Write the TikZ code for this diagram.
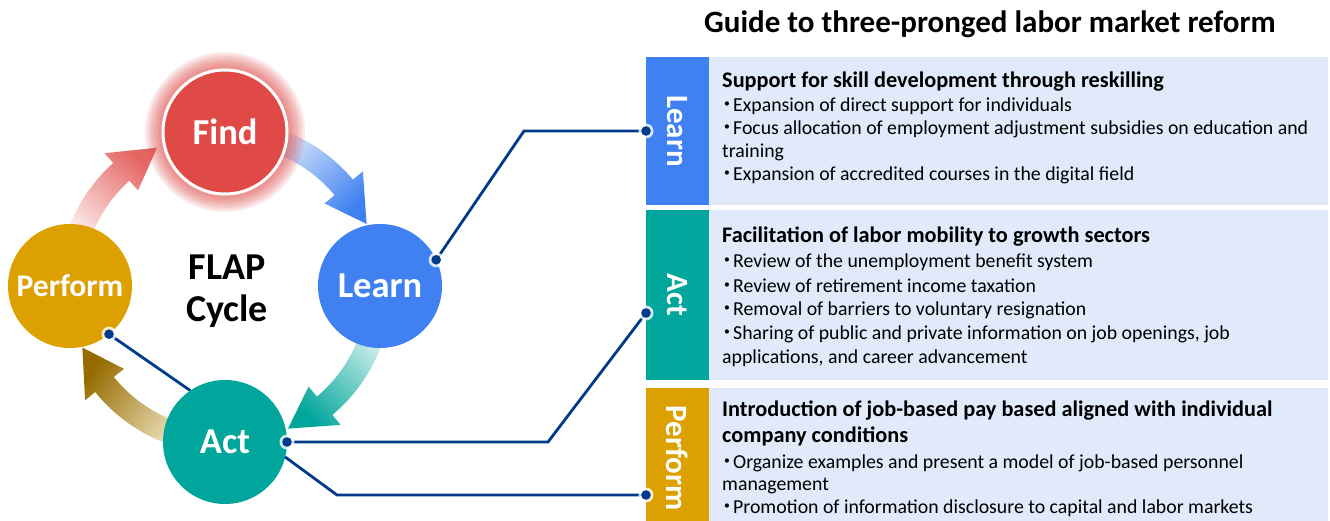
\documentclass[tikz,border=0pt]{standalone}
\usepackage{fontspec}
\setmainfont{Carlito}
\newfontfamily\cjk{Noto Sans CJK JP}
\usetikzlibrary{calc}
\definecolor{navy}{RGB}{0,58,138}
\definecolor{findc}{RGB}{224,74,70}
\definecolor{learnc}{RGB}{63,129,240}
\definecolor{actc}{RGB}{0,165,155}
\definecolor{perfc}{RGB}{220,160,0}
\definecolor{boxc}{RGB}{224,234,250}
\pgfdeclarelayer{bg}
\pgfdeclarelayer{back}
\pgfsetlayers{bg,back,main}
\newcommand\bdot{\makebox[11pt][l]{\kern-5pt\smash{\cjk ・}}}
\newcommand\flaparrow[3]{%
  \shade[#3] ($(cc)+(#1:143)$) arc[start angle=#1, end angle=#2-16, radius=143]
    -- ($(cc)+(#2-16:130)$) -- ($(cc)+(#2:155)$) -- ($(cc)+(#2-16:180)$)
    -- ($(cc)+(#2-16:167)$) arc[start angle=#2-16, end angle=#1, radius=167] -- cycle;}
\newcommand\condot[1]{\fill[white,opacity=0.8] (#1) circle (7.5); \fill[navy] (#1) circle (4.8);}
\tikzset{
  circ/.style={circle, inner sep=0, outer sep=0, minimum size=124, text=white,
    font=\bfseries\fontsize{36.5}{40}\selectfont},
  conn/.style={draw=navy, line width=2.8pt, line join=miter},
  lbl/.style={rectangle, inner sep=0, outer sep=0, minimum width=63, text=white,
    font=\bfseries\fontsize{31}{34}\selectfont},
  lightbox/.style={rectangle, inner sep=0, outer sep=0, fill=boxc, minimum width=619, anchor=north west},
  head/.style={anchor=base west, inner sep=0, font=\bfseries\fontsize{22.3}{24}\selectfont},
  item/.style={anchor=base west, inner sep=0, font=\fontsize{19.8}{22}\selectfont},
}
\begin{document}
\begin{tikzpicture}[x=1pt,y=-1pt]
\useasboundingbox (0,0) rectangle (1330,521);
\begin{pgfonlayer}{bg}
\fill[white] (0,0) rectangle (1330,521);
\end{pgfonlayer}
\coordinate (cc) at (225,287);
% cycle arrows
\flaparrow{-75}{-24}{top color=learnc, bottom color=learnc!15, shading angle=-135}
\flaparrow{12}{66}{top color=actc, bottom color=actc!15, shading angle=134}
\flaparrow{102}{157}{top color={rgb,255:red,150;green,108;blue,0}, bottom color={rgb,255:red,240;green,228;blue,195}, shading angle=53}
\flaparrow{195}{244}{top color=findc!85, bottom color=findc!8, shading angle=-42}
% find glow
\foreach \r in {66,68,...,80} \fill[findc, opacity=0.1] (225,132) circle (\r);
% circles
\node[circ, fill=findc, draw=white, line width=3pt] (find) at (225,132) {Find};
\node[circ, fill=learnc] (learn) at (380,286) {Learn};
\node[circ, fill=perfc, font=\bfseries\fontsize{31.5}{36}\selectfont] (perform) at (70,286) {Perform};
\node[circ, fill=actc] (act) at (225,442) {Act};
\node[align=center, font=\bfseries\fontsize{38}{42}\selectfont] (flap) at (227,291) {FLAP\\Cycle};
% title
\node[anchor=base, inner sep=0, font=\bfseries\fontsize{31}{34}\selectfont] (title) at (990,33) {Guide to three-pronged labor market reform};
% right side boxes
\node[lightbox, minimum height=148] (bxLearn) at (709,57) {};
\node[lightbox, minimum height=170] (bxAct) at (709,210) {};
\node[lightbox, minimum height=133] (bxPerform) at (709,388) {};
\node[lbl, fill=learnc, minimum height=148] (lbLearn) at (677.5,131) {\rotatebox{-90}{Learn}};
\node[lbl, fill=actc, minimum height=170] (lbAct) at (677.5,295) {\rotatebox{-90}{Act}};
\node[lbl, fill=perfc, minimum height=133] (lbPerform) at (677.5,454.5) {};
\node[lbl] (lbPerformText) at (677.5,458) {\rotatebox{-90}{Perform}};
% texts: Learn
\node[head] (hL) at (722,88) {Support for skill development through reskilling};
\node[item] (iL1) at (722,112) {\bdot Expansion of direct support for individuals};
\node[item] (iL2) at (722,135) {\bdot Focus allocation of employment adjustment subsidies on education and};
\node[item] (iL2b) at (722,158) {training};
\node[item] (iL3) at (722,181) {\bdot Expansion of accredited courses in the digital field};
% texts: Act
\node[head] (hA) at (722,243) {Facilitation of labor mobility to growth sectors};
\node[item] (iA1) at (722,268) {\bdot Review of the unemployment benefit system};
\node[item] (iA2) at (722,292) {\bdot Review of retirement income taxation};
\node[item] (iA3) at (722,316) {\bdot Removal of barriers to voluntary resignation};
\node[item] (iA4) at (722,339) {\bdot Sharing of public and private information on job openings, job};
\node[item] (iA4b) at (722,363) {applications, and career advancement};
% texts: Perform
\node[head] (hP) at (722,416) {Introduction of job-based pay based aligned with individual};
\node[head] (hPb) at (722,442) {company conditions};
\node[item] (iP1) at (722,468) {\bdot Organize examples and present a model of job-based personnel};
\node[item] (iP1b) at (722,490) {management};
\node[item] (iP2) at (722,513) {\bdot Promotion of information disclosure to capital and labor markets};
% connectors
\coordinate (bL) at (524,131);
\coordinate (bA) at (548,442);
\coordinate (bP) at (337,495);
\coordinate (pA) at ($(lbAct.west)+(0,18)$);
\coordinate (pP) at ($(lbPerform.west)+(0,40.5)$);
\begin{pgfonlayer}{back}
\draw[conn] (perform.-51) -- (act.124);
\end{pgfonlayer}
\draw[conn] (learn.25) -- (bL) -- (lbLearn.west);
\draw[conn] (act.east) -- (bA) -- (pA);
\draw[conn] (act.-14) -- (bP) -- (pP);
\condot{perform.-51}
\condot{learn.25}
\condot{lbLearn.west}
\condot{act.east}
\condot{pA}
\condot{pP}
\end{tikzpicture}
\end{document}
